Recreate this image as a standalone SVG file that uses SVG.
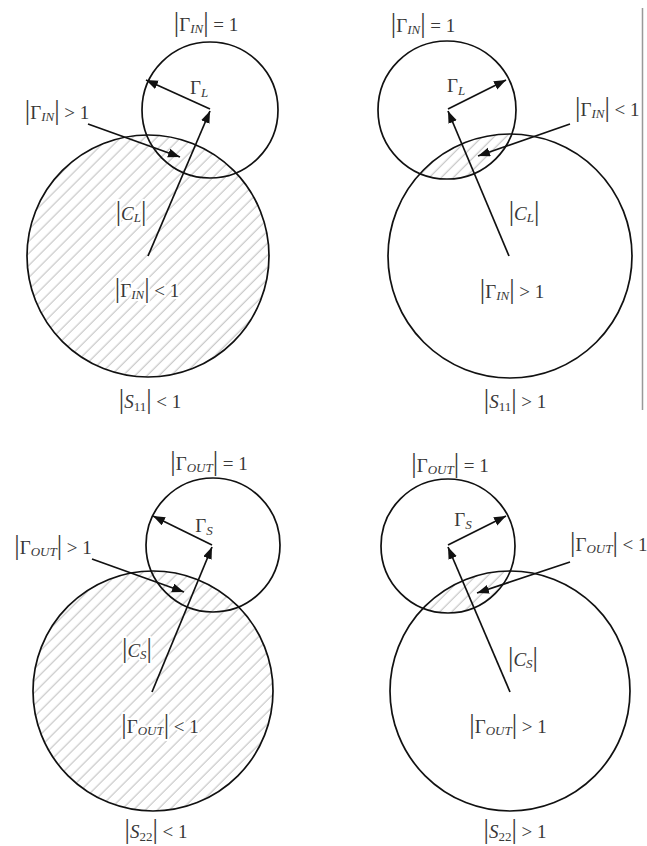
<svg xmlns="http://www.w3.org/2000/svg" width="647" height="846" viewBox="0 0 647 846">
<style>
.c{fill:none;stroke:#111;stroke-width:1.7}
.h{fill:url(#hatch);stroke:none}
.a{stroke:#111;stroke-width:1.7;fill:none;marker-end:url(#ah)}
.t{font-family:"Liberation Serif","Times New Roman",serif;font-size:19px;fill:#383838;text-anchor:middle}
.s{text-anchor:start}
.b{font-size:27px}
.i{font-style:italic;font-size:13px}
.iu{font-size:13px}
.it{font-style:italic}
.halo{stroke:#fff;stroke-width:4;paint-order:stroke;stroke-linejoin:round}
</style>
<defs>
<pattern id="hatch" patternUnits="userSpaceOnUse" width="8.5" height="8.5" patternTransform="rotate(-45)">
<line x1="0" y1="4" x2="8.5" y2="4" stroke="#a8a8a8" stroke-width="0.8"/>
</pattern>
<marker id="ah" markerUnits="userSpaceOnUse" markerWidth="13" markerHeight="10" refX="12" refY="4.5" orient="auto">
<path d="M0,0 L12,4.5 L0,9 z" fill="#111"/>
</marker>
<clipPath id="clipTR"><circle cx="447" cy="110" r="69"/></clipPath>
<clipPath id="clipBR"><circle cx="448" cy="546" r="67"/></clipPath>
</defs>
<rect width="647" height="846" fill="#fff"/>

<g id="tl-big">
<circle class="h" cx="148" cy="256" r="121"/>
<circle class="c" cx="148" cy="256" r="121"/>
</g>
<g id="tl-small">
<circle class="c" cx="210" cy="110" r="68"/>
</g>

<g id="tr-big">
<circle class="h" cx="510" cy="256" r="122" clip-path="url(#clipTR)"/>
<circle class="c" cx="510" cy="256" r="122"/>
</g>
<g id="tr-small">
<circle class="c" cx="447" cy="110" r="69"/>
</g>

<g id="bl-big">
<circle class="h" cx="153" cy="691" r="120"/>
<circle class="c" cx="153" cy="691" r="120"/>
</g>
<g id="bl-small">
<circle class="c" cx="213" cy="545" r="67"/>
</g>

<g id="br-big">
<circle class="h" cx="510" cy="691" r="120" clip-path="url(#clipBR)"/>
<circle class="c" cx="510" cy="691" r="120"/>
</g>
<g id="br-small">
<circle class="c" cx="448" cy="546" r="67"/>
</g>

<g id="connectors">
<line class="a" x1="210" y1="109" x2="146" y2="80"/>
<line class="a" x1="148" y1="256" x2="210" y2="111"/>
<line class="a" x1="88" y1="124" x2="180" y2="157"/>

<line class="a" x1="448" y1="109" x2="506" y2="80"/>
<line class="a" x1="509" y1="256" x2="448" y2="111"/>
<line class="a" x1="570" y1="124" x2="478" y2="156"/>

<line class="a" x1="212" y1="545" x2="153" y2="516"/>
<line class="a" x1="152" y1="692" x2="212" y2="547"/>
<line class="a" x1="92" y1="559" x2="184" y2="592"/>

<line class="a" x1="448" y1="545" x2="506" y2="516"/>
<line class="a" x1="510" y1="692" x2="448" y2="547"/>
<line class="a" x1="570" y1="562" x2="477" y2="593"/>
</g>

<line id="rule" x1="642.5" y1="8" x2="642.5" y2="410" stroke="#999" stroke-width="1.5"/>

<g id="labels-tl">
<text class="t" x="206" y="31"><tspan class="b">|</tspan>Γ<tspan class="i" dy="2">IN</tspan><tspan class="b" dy="-2">|</tspan> = 1</text>
<text class="t" x="199" y="94">Γ<tspan class="i" dy="3">L</tspan></text>
<text class="t" x="57" y="119"><tspan class="b">|</tspan>Γ<tspan class="i" dy="2">IN</tspan><tspan class="b" dy="-2">|</tspan> &gt; 1</text>
<text class="t halo" x="131" y="220"><tspan class="b">|</tspan><tspan class="it">C</tspan><tspan class="i" dy="2">L</tspan><tspan class="b" dy="-2">|</tspan></text>
<text class="t halo" x="147" y="297"><tspan class="b">|</tspan>Γ<tspan class="i" dy="2">IN</tspan><tspan class="b" dy="-2">|</tspan> &lt; 1</text>
<text class="t" x="150" y="408"><tspan class="b">|</tspan><tspan class="it">S</tspan><tspan class="iu" dy="3">11</tspan><tspan class="b" dy="-3">|</tspan> &lt; 1</text>
</g>

<g id="labels-tr">
<text class="t" x="423" y="32"><tspan class="b">|</tspan>Γ<tspan class="i" dy="2">IN</tspan><tspan class="b" dy="-2">|</tspan> = 1</text>
<text class="t" x="456" y="92">Γ<tspan class="i" dy="3">L</tspan></text>
<text class="t s" x="575" y="116"><tspan class="b">|</tspan>Γ<tspan class="i" dy="2">IN</tspan><tspan class="b" dy="-2">|</tspan> &lt; 1</text>
<text class="t" x="524" y="220"><tspan class="b">|</tspan><tspan class="it">C</tspan><tspan class="i" dy="2">L</tspan><tspan class="b" dy="-2">|</tspan></text>
<text class="t" x="512" y="298"><tspan class="b">|</tspan>Γ<tspan class="i" dy="2">IN</tspan><tspan class="b" dy="-2">|</tspan> &gt; 1</text>
<text class="t" x="515" y="408"><tspan class="b">|</tspan><tspan class="it">S</tspan><tspan class="iu" dy="3">11</tspan><tspan class="b" dy="-3">|</tspan> &gt; 1</text>
</g>

<g id="labels-bl">
<text class="t" x="209" y="470"><tspan class="b">|</tspan>Γ<tspan class="i" dy="2">OUT</tspan><tspan class="b" dy="-2">|</tspan> = 1</text>
<text class="t" x="204" y="532">Γ<tspan class="i" dy="3">S</tspan></text>
<text class="t" x="53" y="554"><tspan class="b">|</tspan>Γ<tspan class="i" dy="2">OUT</tspan><tspan class="b" dy="-2">|</tspan> &gt; 1</text>
<text class="t halo" x="137" y="657"><tspan class="b">|</tspan><tspan class="it">C</tspan><tspan class="i" dy="2">S</tspan><tspan class="b" dy="-2">|</tspan></text>
<text class="t halo" x="160" y="733"><tspan class="b">|</tspan>Γ<tspan class="i" dy="2">OUT</tspan><tspan class="b" dy="-2">|</tspan> &lt; 1</text>
<text class="t" x="156" y="838"><tspan class="b">|</tspan><tspan class="it">S</tspan><tspan class="iu" dy="3">22</tspan><tspan class="b" dy="-3">|</tspan> &lt; 1</text>
</g>

<g id="labels-br">
<text class="t" x="450" y="472"><tspan class="b">|</tspan>Γ<tspan class="i" dy="2">OUT</tspan><tspan class="b" dy="-2">|</tspan> = 1</text>
<text class="t" x="463" y="526">Γ<tspan class="i" dy="3">S</tspan></text>
<text class="t s" x="570" y="551"><tspan class="b">|</tspan>Γ<tspan class="i" dy="2">OUT</tspan><tspan class="b" dy="-2">|</tspan> &lt; 1</text>
<text class="t" x="523" y="666"><tspan class="b">|</tspan><tspan class="it">C</tspan><tspan class="i" dy="2">S</tspan><tspan class="b" dy="-2">|</tspan></text>
<text class="t" x="508" y="733"><tspan class="b">|</tspan>Γ<tspan class="i" dy="2">OUT</tspan><tspan class="b" dy="-2">|</tspan> &gt; 1</text>
<text class="t" x="515" y="838"><tspan class="b">|</tspan><tspan class="it">S</tspan><tspan class="iu" dy="3">22</tspan><tspan class="b" dy="-3">|</tspan> &gt; 1</text>
</g>
</svg>
